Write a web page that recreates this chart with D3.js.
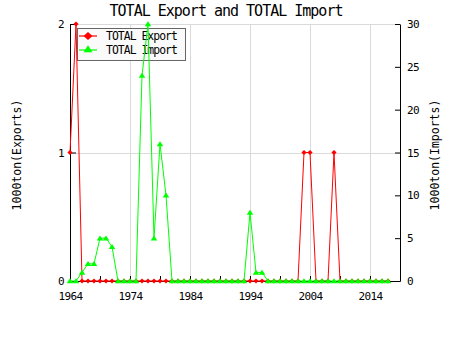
<!DOCTYPE html>
<html>
<head>
<meta charset="utf-8">
<script src="https://cdn.jsdelivr.net/npm/d3@7"></script>
<style>
  body { margin: 0; background: #fff; }
  svg text { font-family: "DejaVu Sans Mono", monospace; fill: #000; }
</style>
</head>
<body>
<div id="chart"></div>
<script>
const years = [
  1964, 1965, 1966, 1967, 1968, 1969, 1970, 1971, 1972, 1973,
  1974, 1975, 1976, 1977, 1978, 1979, 1980, 1981, 1982, 1983,
  1984, 1985, 1986, 1987, 1988, 1989, 1990, 1991, 1992, 1993,
  1994, 1995, 1996, 1997, 1998, 1999, 2000, 2001, 2002, 2003,
  2004, 2005, 2006, 2007, 2008, 2009, 2010, 2011, 2012, 2013,
  2014, 2015, 2016, 2017
];
const exportsTon = [
  1, 2, 0, 0, 0, 0, 0, 0, 0, 0,
  0, 0, 0, 0, 0, 0, 0, 0, 0, 0,
  0, 0, 0, 0, 0, 0, 0, 0, 0, 0,
  0, 0, 0, 0, 0, 0, 0, 0, 0, 1,
  1, 0, 0, 0, 1, 0, 0, 0, 0, 0,
  0, 0, 0, 0
];
const importsTon = [
  0, 0, 1, 2, 2, 5, 5, 4, 0, 0,
  0, 0, 24, 30, 5, 16, 10, 0, 0, 0,
  0, 0, 0, 0, 0, 0, 0, 0, 0, 0,
  8, 1, 1, 0, 0, 0, 0, 0, 0, 0,
  0, 0, 0, 0, 0, 0, 0, 0, 0, 0,
  0, 0, 0, 0
];
const leftTicks = [0, 1, 2];
const rightTicks = [0, 5, 10, 15, 20, 25, 30];
const xTicks = [1964, 1969, 1974, 1979, 1984, 1989, 1994, 1999, 2004, 2009, 2014];
const xLabelled = [1964, 1974, 1984, 1994, 2004, 2014];

const W = 450, H = 350;
const plotL = 70, plotR = 400, plotT = 24, plotB = 281;

const svg = d3.select("#chart").append("svg")
  .attr("width", W).attr("height", H);

const x = d3.scaleLinear().domain([1964, 2019]).range([plotL, plotR]);
const yL = d3.scaleLinear().domain([0, 2]).range([plotB, plotT]);
const yR = d3.scaleLinear().domain([0, 30]).range([plotB, plotT]);

// grid
const grid = svg.append("g").attr("stroke", "#dadada").attr("stroke-width", 1);
xLabelled.slice(1).forEach(v => {
  grid.append("line")
    .attr("x1", x(v) + 0.5).attr("x2", x(v) + 0.5)
    .attr("y1", plotT).attr("y2", plotB);
});
[1, 2].forEach(v => {
  grid.append("line")
    .attr("x1", plotL).attr("x2", plotR)
    .attr("y1", Math.round(yL(v)) + 0.5).attr("y2", Math.round(yL(v)) + 0.5);
});

// legend box (under the data lines)
const legend = svg.append("g");
legend.append("rect")
  .attr("x", 77.5).attr("y", 28.5).attr("width", 108).attr("height", 32)
  .attr("fill", "#fafafa").attr("stroke", "#666");

function diamond(cx, cy, w, h) {
  return `M${cx - w},${cy}L${cx},${cy - h}L${cx + w},${cy}L${cx},${cy + h}Z`;
}
function triangle(cx, cy, w, h) {
  return `M${cx - w},${cy + h * 0.45}L${cx},${cy - h * 0.55}L${cx + w},${cy + h * 0.45}Z`;
}

const legendItems = [
  { label: "TOTAL Export", color: "#ff0000", shape: "d" },
  { label: "TOTAL Import", color: "#00ff00", shape: "t" }
];
legendItems.forEach((d, i) => {
  const cy = 36 + i * 14;
  legend.append("line")
    .attr("x1", 79).attr("x2", 97).attr("y1", cy).attr("y2", cy)
    .attr("stroke", d.color).attr("stroke-width", 1.2);
  legend.append("path")
    .attr("d", d.shape === "d" ? diamond(88, cy, 4.5, 4) : triangle(88, cy - 1, 4.5, 7))
    .attr("fill", d.color);
  legend.append("text")
    .attr("x", 106).attr("y", cy + 4)
    .attr("font-size", 11.4).attr("letter-spacing", -0.95)
    .text(d.label);
});

// axes
const fontAxis = sel => sel.selectAll("text")
  .attr("font-size", 11).attr("letter-spacing", -0.6)
  .style("font-family", "'DejaVu Sans Mono', monospace");

svg.append("g")
  .attr("transform", `translate(${plotL},0)`)
  .call(d3.axisLeft(yL).tickValues(leftTicks).tickSize(-6).tickSizeOuter(0).tickPadding(6).tickFormat(d3.format("d")))
  .call(fontAxis)
  .call(g => g.selectAll("path,line").attr("stroke", "#000"));

svg.append("g")
  .attr("transform", `translate(${plotR},0)`)
  .call(d3.axisRight(yR).tickValues(rightTicks).tickSize(-5).tickSizeOuter(0).tickPadding(7).tickFormat(d3.format("d")))
  .call(fontAxis)
  .call(g => g.selectAll("path,line").attr("stroke", "#000"));

svg.append("g")
  .attr("transform", `translate(0,${plotB})`)
  .call(d3.axisBottom(x).tickValues(xTicks).tickSize(-5).tickSizeOuter(0).tickPadding(11)
    .tickFormat(v => xLabelled.includes(v) ? String(v) : ""))
  .call(fontAxis)
  .call(g => g.selectAll("path,line").attr("stroke", "#000"));

// series
const rows = years.map((yr, i) => ({ yr, ex: exportsTon[i], im: importsTon[i] }));

svg.append("path")
  .datum(rows)
  .attr("fill", "none").attr("stroke", "#ff0000").attr("stroke-width", 1)
  .attr("d", d3.line().x(d => x(d.yr)).y(d => yL(d.ex)));
svg.append("g").selectAll("path")
  .data(rows).join("path")
  .attr("d", d => diamond(x(d.yr), yL(d.ex), 2.6, 2.6))
  .attr("fill", "#ff0000");

svg.append("path")
  .datum(rows)
  .attr("fill", "none").attr("stroke", "#00ff00").attr("stroke-width", 1)
  .attr("d", d3.line().x(d => x(d.yr)).y(d => yR(d.im)));
svg.append("g").selectAll("path")
  .data(rows).join("path")
  .attr("d", d => triangle(x(d.yr), yR(d.im), 3.3, 5))
  .attr("fill", "#00ff00");

// titles
svg.append("text")
  .attr("x", 226).attr("y", 16)
  .attr("text-anchor", "middle")
  .attr("font-size", 15).attr("letter-spacing", -1)
  .text("TOTAL Export and TOTAL Import");

svg.append("text")
  .attr("transform", "translate(20.5,155) rotate(-90)")
  .attr("text-anchor", "middle")
  .attr("font-size", 11.5)
  .text("1000ton(Exports)");

svg.append("text")
  .attr("transform", "translate(438.5,155) rotate(-90)")
  .attr("text-anchor", "middle")
  .attr("font-size", 11.5)
  .text("1000ton(Imports)");
</script>
</body>
</html>
